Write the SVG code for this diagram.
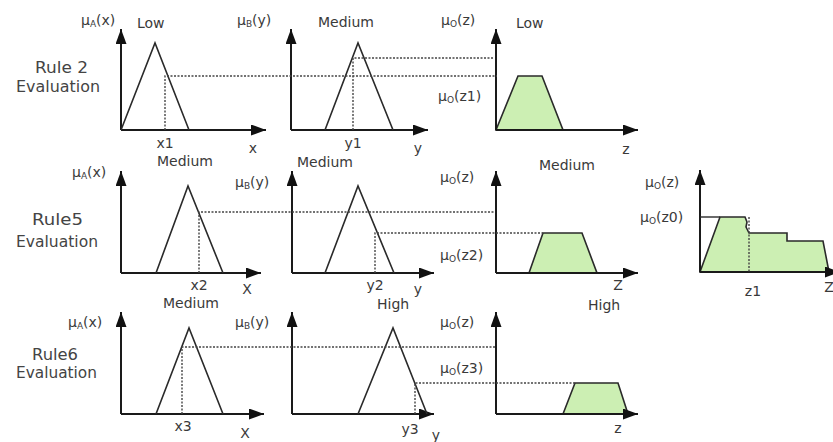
<svg xmlns="http://www.w3.org/2000/svg" width="833" height="442" viewBox="0 0 833 442">
<defs>
<marker id="arr" markerUnits="userSpaceOnUse" markerWidth="16" markerHeight="12" refX="15" refY="5.5" orient="auto">
<path d="M0,0 L15,5.5 L0,11 z" fill="#111"/>
</marker>
<style>
.ax{stroke:#1a1a1a;stroke-width:2;fill:none;marker-end:url(#arr)}
.mf{stroke:#2a2a2a;stroke-width:1.6;fill:none;stroke-linejoin:miter}
.dot{stroke:#444;stroke-width:1.4;stroke-dasharray:2 1.5;fill:none}
.out{stroke:#2a2a2a;stroke-width:1.6;fill:#ccefb3;stroke-linejoin:miter}
text{font-family:"DejaVu Sans","Liberation Sans",sans-serif;fill:#3a3a3a;font-size:14px}
.lbl{font-size:15px;fill:#444}
.sub{font-size:9px}
</style>
</defs>
<rect width="833" height="442" fill="#fff"/>

<g id="rule2">
<text class="lbl" x="35" y="73" textLength="53" lengthAdjust="spacingAndGlyphs">Rule 2</text>
<text class="lbl" x="16" y="92" textLength="84" lengthAdjust="spacingAndGlyphs">Evaluation</text>
</g>
<g id="rule5">
<text class="lbl" x="32" y="225" textLength="51" lengthAdjust="spacingAndGlyphs">Rule5</text>
<text class="lbl" x="16" y="247" textLength="82" lengthAdjust="spacingAndGlyphs">Evaluation</text>
</g>
<g id="rule6">
<text class="lbl" x="32" y="360" textLength="46" lengthAdjust="spacingAndGlyphs">Rule6</text>
<text class="lbl" x="16" y="378" textLength="81" lengthAdjust="spacingAndGlyphs">Evaluation</text>
</g>

<!-- Row 1 -->
<g id="r1a">
<line class="ax" x1="121" y1="130" x2="121" y2="29"/>
<line class="ax" x1="121" y1="130" x2="266" y2="130"/>
<polyline class="mf" points="121,130 155,43 189,130"/>
<text x="81" y="25">μ<tspan class="sub" dy="2">A</tspan><tspan dy="-2">(x)</tspan></text>
<text x="137" y="28">Low</text>
<text x="165" y="148" text-anchor="middle">x1</text>
<text x="253" y="153" text-anchor="middle">x</text>
</g>
<g id="r1b">
<line class="ax" x1="291" y1="130" x2="291" y2="29"/>
<line class="ax" x1="291" y1="130" x2="428" y2="130"/>
<polyline class="mf" points="325,130 358,43 393,130"/>
<text x="237" y="25">μ<tspan class="sub" dy="2">B</tspan><tspan dy="-2">(y)</tspan></text>
<text x="318" y="27">Medium</text>
<text x="353" y="148" text-anchor="middle">y1</text>
<text x="418" y="153" text-anchor="middle">y</text>
</g>
<g id="r1o">
<polygon class="out" points="496,130 518,76 542,76 563,130"/>
<line class="ax" x1="496" y1="130" x2="496" y2="29"/>
<line class="ax" x1="496" y1="130" x2="638" y2="130"/>
<text x="441" y="25">μ<tspan class="sub" dy="2">O</tspan><tspan dy="-2">(z)</tspan></text>
<text x="516" y="28">Low</text>
<text x="438" y="101">μ<tspan class="sub" dy="2">O</tspan><tspan dy="-2">(z1)</tspan></text>
<text x="626" y="154" text-anchor="middle">z</text>
</g>

<!-- Row 2 -->
<g id="r2a">
<line class="ax" x1="121" y1="273" x2="121" y2="171"/>
<line class="ax" x1="121" y1="273" x2="261" y2="273"/>
<polyline class="mf" points="156,273 188,186 223,273"/>
<text x="72" y="177">μ<tspan class="sub" dy="2">A</tspan><tspan dy="-2">(x)</tspan></text>
<text x="157" y="166">Medium</text>
<text x="199" y="290" text-anchor="middle">x2</text>
<text x="247" y="294" text-anchor="middle">X</text>
</g>
<g id="r2b">
<line class="ax" x1="292" y1="273" x2="292" y2="171"/>
<line class="ax" x1="292" y1="273" x2="434" y2="273"/>
<polyline class="mf" points="325,273 358,186 394,273"/>
<text x="235" y="187">μ<tspan class="sub" dy="2">B</tspan><tspan dy="-2">(y)</tspan></text>
<text x="297" y="167">Medium</text>
<text x="375" y="290" text-anchor="middle">y2</text>
<text x="418" y="294" text-anchor="middle">y</text>
</g>
<g id="r2o">
<polygon class="out" points="529,273 543,233 582,233 597,273"/>
<line class="ax" x1="496" y1="273" x2="496" y2="171"/>
<line class="ax" x1="496" y1="273" x2="638" y2="273"/>
<text x="440" y="182">μ<tspan class="sub" dy="2">O</tspan><tspan dy="-2">(z)</tspan></text>
<text x="539" y="170">Medium</text>
<text x="440" y="260">μ<tspan class="sub" dy="2">O</tspan><tspan dy="-2">(z2)</tspan></text>
<text x="618" y="290" text-anchor="middle" font-size="12">Z</text>
</g>

<!-- Row 3 -->
<g id="r3a">
<line class="ax" x1="121" y1="414" x2="121" y2="312"/>
<line class="ax" x1="121" y1="414" x2="264" y2="414"/>
<polyline class="mf" points="156,414 189,328 223,414"/>
<text x="68" y="327">μ<tspan class="sub" dy="2">A</tspan><tspan dy="-2">(x)</tspan></text>
<text x="163" y="308">Medium</text>
<text x="183" y="431" text-anchor="middle">x3</text>
<text x="245" y="438" text-anchor="middle">X</text>
</g>
<g id="r3b">
<line class="ax" x1="292" y1="414" x2="292" y2="312"/>
<line class="ax" x1="292" y1="414" x2="434" y2="414"/>
<polyline class="mf" points="358,414 393,328 427,414"/>
<text x="235" y="327">μ<tspan class="sub" dy="2">B</tspan><tspan dy="-2">(y)</tspan></text>
<text x="377" y="309">High</text>
<text x="410" y="434" text-anchor="middle">y3</text>
<text x="436" y="440" text-anchor="middle">y</text>
</g>
<g id="r3o">
<polygon class="out" points="563,414 575,383 618,383 628,414"/>
<line class="ax" x1="496" y1="414" x2="496" y2="312"/>
<line class="ax" x1="496" y1="414" x2="638" y2="414"/>
<text x="440" y="327">μ<tspan class="sub" dy="2">O</tspan><tspan dy="-2">(z)</tspan></text>
<text x="440" y="373">μ<tspan class="sub" dy="2">O</tspan><tspan dy="-2">(z3)</tspan></text>
<text x="588" y="310">High</text>
<text x="618" y="433" text-anchor="middle">z</text>
</g>

<!-- Aggregate -->
<g id="agg">
<polygon class="out" points="700,272 720,217 745,217 747,222 746,227 749,233 787,233 787,241 823,241 829,272"/>
<line class="ax" x1="700" y1="272" x2="700" y2="170"/>
<line class="ax" x1="700" y1="272" x2="840" y2="272"/>
<line x1="700" y1="217" x2="720" y2="217" stroke="#2a2a2a" stroke-width="1.4"/>
<text x="645" y="187">μ<tspan class="sub" dy="2">O</tspan><tspan dy="-2">(z)</tspan></text>
<text x="640" y="222">μ<tspan class="sub" dy="2">O</tspan><tspan dy="-2">(z0)</tspan></text>
<text x="753" y="296" text-anchor="middle">z1</text>
<text x="829" y="292" text-anchor="middle">Z</text>
</g>

<g id="connectors">
<polyline class="dot" points="165,130 165,76 497,76"/>
<polyline class="dot" points="353,130 353,58 494,58"/>
<polyline class="dot" points="199,273 199,212 495,212"/>
<polyline class="dot" points="375,273 375,233 543,233"/>
<polyline class="dot" points="182,414 182,347 495,347"/>
<polyline class="dot" points="415,414 415,383 575,383"/>
<line class="dot" x1="749" y1="217" x2="749" y2="272"/>
</g>
</svg>
